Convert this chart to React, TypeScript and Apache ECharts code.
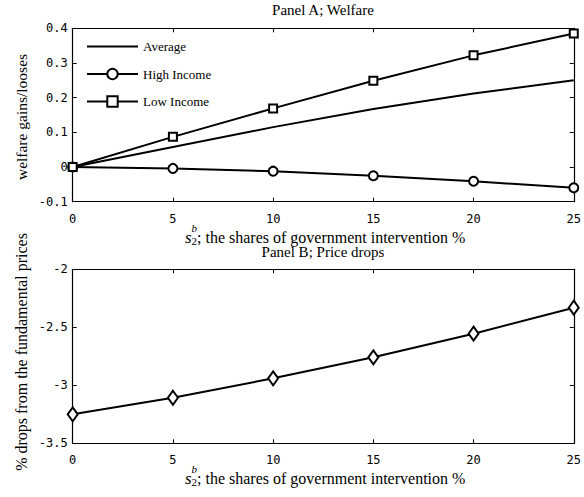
import React, { useEffect, useRef } from "react";
import * as echarts from "echarts";

const xValues = [0, 5, 10, 15, 20, 25];
const average = [0, 0.058, 0.115, 0.167, 0.212, 0.25];
const highIncome = [0, -0.004, -0.012, -0.025, -0.041, -0.06];
const lowIncome = [0, 0.087, 0.169, 0.249, 0.322, 0.385];
const priceDrops = [-3.25, -3.107, -2.94, -2.759, -2.555, -2.331];

const titleA = "Panel A; Welfare";
const titleB = "Panel B; Price drops";
const yNameA = "welfare gains/looses";
const yNameB = "% drops from the fundamental prices";
const xNameRest = "; the shares of government intervention %";

const SERIF = "Liberation Serif";
const MONO = "DejaVu Sans Mono";

function pairs(ys: number[]) {
  return xValues.map((x, i) => [x, ys[i]]);
}

function txt(text: string, x: number, y: number, size: number, extra: any = {}) {
  return {
    type: "text",
    x,
    y,
    rotation: extra.rotation || 0,
    style: {
      text,
      fontFamily: SERIF,
      fontSize: size,
      fontStyle: extra.italic ? "italic" : "normal",
      fill: "#000",
      align: extra.align || "left",
      verticalAlign: "middle",
    },
  };
}

function xName(y: number) {
  return {
    type: "group",
    children: [
      txt("s", 185, y, 17, { italic: true }),
      txt("b", 191.5, y - 9, 11, { italic: true }),
      txt("2", 191.5, y + 4, 11),
      txt(xNameRest, 197, y, 16),
    ],
  };
}

export default function App() {
  const ref = useRef<HTMLDivElement>(null);
  useEffect(() => {
    if (!ref.current) return;
    const chart = echarts.init(ref.current, null, { renderer: "svg" });
    const axisLine = { show: true, onZero: false, lineStyle: { color: "#000", width: 1.2 } };
    const tick = { show: true, inside: true, length: 4, lineStyle: { color: "#000", width: 1 } };
    const label = { color: "#000", fontFamily: MONO, fontSize: 12, margin: 5 };
    const mkX = (grid: number, pos: "bottom" | "top", showLabel: boolean) => ({
      type: "value",
      gridIndex: grid,
      position: pos,
      min: 0,
      max: 25,
      interval: 5,
      axisLine,
      axisTick: tick,
      axisLabel: { ...label, show: showLabel, margin: 11 },
      splitLine: { show: false },
    });
    const mkY = (grid: number, pos: "left" | "right", showLabel: boolean, min: number, max: number, interval: number) => ({
      type: "value",
      gridIndex: grid,
      position: pos,
      min,
      max,
      interval,
      axisLine,
      axisTick: tick,
      axisLabel: { ...label, show: showLabel },
      splitLine: { show: false },
    });
    const lineCommon = {
      type: "line",
      lineStyle: { color: "#000", width: 2 },
      itemStyle: { color: "#fff", borderColor: "#000", borderWidth: 2 },
      color: "#000",
      z: 3,
    };
    chart.setOption({
      animation: false,
      backgroundColor: "#fff",
      grid: [
        { left: 72.7, top: 28.3, width: 503, height: 173.4 },
        { left: 72.7, top: 269.3, width: 503, height: 174 },
      ],
      xAxis: [mkX(0, "bottom", true), mkX(1, "bottom", true), mkX(0, "top", false), mkX(1, "top", false)],
      yAxis: [
        mkY(0, "left", true, -0.1, 0.4, 0.1),
        mkY(1, "left", true, -3.5, -2, 0.5),
        mkY(0, "right", false, -0.1, 0.4, 0.1),
        mkY(1, "right", false, -3.5, -2, 0.5),
      ],
      legend: {
        orient: "vertical",
        left: 86,
        top: 40,
        padding: 0,
        itemWidth: 51,
        itemHeight: 13,
        itemGap: 14.5,
        textStyle: { color: "#000", fontFamily: SERIF, fontSize: 13 },
        data: [
          { name: "Average", itemStyle: { color: "transparent", borderColor: "transparent", borderWidth: 0 } },
          "High Income",
          "Low Income",
        ],
      },
      series: [
        { ...lineCommon, name: "Average", xAxisIndex: 0, yAxisIndex: 0, symbol: "none", data: pairs(average) },
        { ...lineCommon, name: "High Income", xAxisIndex: 0, yAxisIndex: 0, symbol: "circle", symbolSize: 9, data: pairs(highIncome) },
        { ...lineCommon, name: "Low Income", xAxisIndex: 0, yAxisIndex: 0, symbol: "rect", symbolSize: 8, data: pairs(lowIncome) },
        { ...lineCommon, name: "Price drops", xAxisIndex: 1, yAxisIndex: 1, symbol: "diamond", symbolSize: [10, 14], data: pairs(priceDrops) },
      ],
      graphic: [
        txt(titleA, 323, 10, 15, { align: "center" }),
        txt(titleB, 323, 252, 15, { align: "center" }),
        txt(yNameA, 21, 117, 15.5, { align: "center", rotation: Math.PI / 2 }),
        txt(yNameB, 21, 352, 16, { align: "center", rotation: Math.PI / 2 }),
        xName(237),
        xName(478),
      ],
    });
    return () => chart.dispose();
  }, []);
  return <div ref={ref} style={{ position: "fixed", left: 0, top: 0, width: 584, height: 497 }} />;
}
